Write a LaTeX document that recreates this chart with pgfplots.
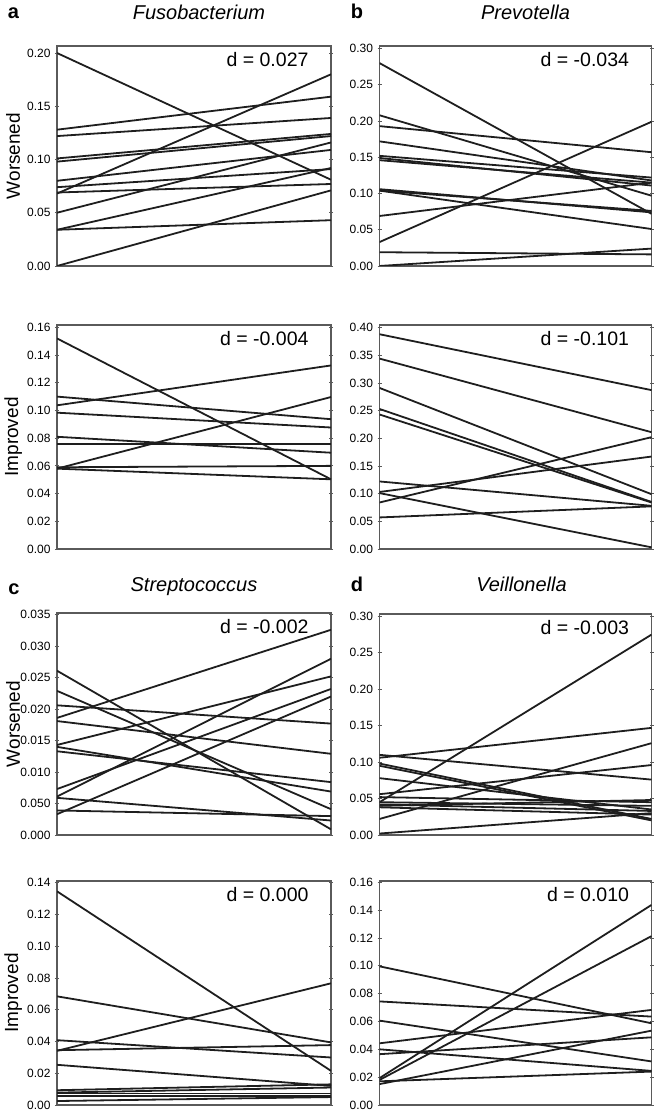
\documentclass[border=0pt]{standalone}
\usepackage{pgfplots}
\pgfplotsset{compat=1.18}
\usepackage{fontspec}
\setmainfont{Liberation Sans}
\definecolor{ln}{HTML}{1E1E1E}
\definecolor{fr}{HTML}{5A5A5A}
\pgfplotscreateplotcyclelist{blk}{draw=ln, line width=1.8pt, solid, no marks\\}
\pgfplotsset{
  panel/.style={
    scale only axis, xmin=0, xmax=1, ymin=0, xtick=\empty,
    clip mode=individual, scaled y ticks=false,
    axis line style={draw=fr, line width=1.2pt},
    tick style={draw=fr, line width=0.8pt},
    major tick length=4pt, tick align=center,
    /pgf/number format/assume math mode=true,
    /pgf/number format/fixed, /pgf/number format/fixed zerofill, /pgf/number format/precision=2,
    tick label style={font=\fontsize{12}{13}\selectfont},
    yticklabel style={xshift=-1pt},
    cycle list name=blk,
    title style={font=\fontsize{20}{22}\selectfont\itshape, anchor=base},
    ylabel style={font=\fontsize{19}{21}\selectfont, at={(axis description cs:-0.16,0.5)}, anchor=center},
  },
}
\tikzset{
  dlab/.style={anchor=base east, font=\fontsize{19.5}{21}\selectfont, xshift=-19pt, yshift=-21pt},
  plab/.style={anchor=base, font=\fontsize{20}{22}\selectfont\bfseries},
}
\begin{document}
\begin{tikzpicture}
\path[use as bounding box] (0pt,0pt) rectangle (658pt,1113pt);

% ---- a: Fusobacterium, Worsened
\begin{axis}[panel, at={(57pt,847pt)}, anchor=south west, width=274pt, height=220pt,
  ymax=0.2066, ytick={0,0.05,0.10,0.15,0.20}, ylabel={Worsened},
  title={Fusobacterium}, title style={at={(0.518,1)}, yshift=20pt}]
\addplot coordinates {(0,0.200) (1,0.081)};
\addplot coordinates {(0,0.068) (1,0.180)};
\addplot coordinates {(0,0.128) (1,0.159)};
\addplot coordinates {(0,0.122) (1,0.139)};
\addplot coordinates {(0,0.101) (1,0.124)};
\addplot coordinates {(0,0.098) (1,0.122)};
\addplot coordinates {(0,0.080) (1,0.109)};
\addplot coordinates {(0,0.074) (1,0.091)};
\addplot coordinates {(0,0.069) (1,0.077)};
\addplot coordinates {(0,0.050) (1,0.116)};
\addplot coordinates {(0,0.034) (1,0.092)};
\addplot coordinates {(0,0.034) (1,0.043)};
\addplot coordinates {(0,0.000) (1,0.071)};
\node[dlab] at (rel axis cs:1,1) {d = 0.027};
\node[plab] at (rel axis cs:0,1) [xshift=-43.5pt, yshift=27pt] {a};
\end{axis}

% ---- b: Prevotella, Worsened
\begin{axis}[panel, at={(379.5pt,847pt)}, anchor=south west, width=272pt, height=220pt,
  ymax=0.3036, ytick={0,0.05,0.10,0.15,0.20,0.25,0.30},
  title={Prevotella}, title style={at={(0.537,1)}, yshift=20pt}]
\addplot coordinates {(0,0.280) (1,0.072)};
\addplot coordinates {(0,0.208) (1,0.097)};
\addplot coordinates {(0,0.193) (1,0.157)};
\addplot coordinates {(0,0.172) (1,0.118)};
\addplot coordinates {(0,0.152) (1,0.122)};
\addplot coordinates {(0,0.149) (1,0.111)};
\addplot coordinates {(0,0.146) (1,0.115)};
\addplot coordinates {(0,0.106) (1,0.074)};
\addplot coordinates {(0,0.104) (1,0.076)};
\addplot coordinates {(0,0.104) (1,0.051)};
\addplot coordinates {(0,0.069) (1,0.115)};
\addplot coordinates {(0,0.033) (1,0.199)};
\addplot coordinates {(0,0.019) (1,0.016)};
\addplot coordinates {(0,0.000) (1,0.024)};
\node[dlab] at (rel axis cs:1,1) {d = -0.034};
\node[plab] at (rel axis cs:0,1) [xshift=-22.5pt, yshift=27pt] {b};
\end{axis}

% ---- a: Fusobacterium, Improved
\begin{axis}[panel, at={(57pt,564pt)}, anchor=south west, width=274pt, height=224pt,
  ymax=0.1617, ytick={0,0.02,0.04,0.06,0.08,0.10,0.12,0.14,0.16}, ylabel={Improved}]
\addplot coordinates {(0,0.152) (1,0.0503)};
\addplot coordinates {(0,0.1037) (1,0.1325)};
\addplot coordinates {(0,0.110) (1,0.0937)};
\addplot coordinates {(0,0.0984) (1,0.0877)};
\addplot coordinates {(0,0.081) (1,0.0695)};
\addplot coordinates {(0,0.0757) (1,0.0757)};
\addplot coordinates {(0,0.058) (1,0.1097)};
\addplot coordinates {(0,0.059) (1,0.060)};
\addplot coordinates {(0,0.058) (1,0.0503)};
\node[dlab] at (rel axis cs:1,1) {d = -0.004};
\end{axis}

% ---- b: Prevotella, Improved
\begin{axis}[panel, at={(379.5pt,564pt)}, anchor=south west, width=272pt, height=224pt,
  ymax=0.4047, ytick={0,0.05,0.10,0.15,0.20,0.25,0.30,0.35,0.40}]
\addplot coordinates {(0,0.388) (1,0.287)};
\addplot coordinates {(0,0.344) (1,0.211)};
\addplot coordinates {(0,0.291) (1,0.099)};
\addplot coordinates {(0,0.253) (1,0.085)};
\addplot coordinates {(0,0.243) (1,0.084)};
\addplot coordinates {(0,0.084) (1,0.202)};
\addplot coordinates {(0,0.103) (1,0.167)};
\addplot coordinates {(0,0.122) (1,0.078)};
\addplot coordinates {(0,0.101) (1,0.003)};
\addplot coordinates {(0,0.057) (1,0.077)};
\node[dlab] at (rel axis cs:1,1) {d = -0.101};
\end{axis}

% ---- c: Streptococcus, Worsened
\begin{axis}[panel, at={(57pt,278pt)}, anchor=south west, width=274pt, height=222pt,
  ymax=0.03527, ytick={0,0.005,0.010,0.015,0.020,0.025,0.030,0.035},
  yticklabels={0.000,0.050,0.010,0.015,0.020,0.025,0.030,0.035},
  ylabel={Worsened},
  title={Streptococcus}, title style={at={(0.5,1)}, yshift=15pt}]
\addplot coordinates {(0,0.0261) (1,0.0009)};
\addplot coordinates {(0,0.0229) (1,0.0041)};
\addplot coordinates {(0,0.0206) (1,0.0177)};
\addplot coordinates {(0,0.0186) (1,0.0326)};
\addplot coordinates {(0,0.0181) (1,0.0129)};
\addplot coordinates {(0,0.0143) (1,0.0252)};
\addplot coordinates {(0,0.0140) (1,0.0069)};
\addplot coordinates {(0,0.0133) (1,0.0084)};
\addplot coordinates {(0,0.0073) (1,0.0232)};
\addplot coordinates {(0,0.0061) (1,0.0280)};
\addplot coordinates {(0,0.0059) (1,0.0023)};
\addplot coordinates {(0,0.0039) (1,0.0030)};
\addplot coordinates {(0,0.0033) (1,0.0220)};
\node[dlab] at (rel axis cs:1,1) {d = -0.002};
\node[plab] at (rel axis cs:0,1) [xshift=-43pt, yshift=18pt] {c};
\end{axis}

% ---- d: Veillonella, Worsened
\begin{axis}[panel, at={(379.5pt,278pt)}, anchor=south west, width=272pt, height=221pt,
  ymax=0.3033, ytick={0,0.05,0.10,0.15,0.20,0.25,0.30},
  title={Veillonella}, title style={at={(0.522,1)}, yshift=16pt}]
\addplot coordinates {(0,0.045) (1,0.275)};
\addplot coordinates {(0,0.106) (1,0.147)};
\addplot coordinates {(0,0.110) (1,0.076)};
\addplot coordinates {(0,0.098) (1,0.022)};
\addplot coordinates {(0,0.095) (1,0.020)};
\addplot coordinates {(0,0.078) (1,0.035)};
\addplot coordinates {(0,0.056) (1,0.096)};
\addplot coordinates {(0,0.052) (1,0.045)};
\addplot coordinates {(0,0.045) (1,0.040)};
\addplot coordinates {(0,0.042) (1,0.033)};
\addplot coordinates {(0,0.040) (1,0.048)};
\addplot coordinates {(0,0.038) (1,0.028)};
\addplot coordinates {(0,0.022) (1,0.126)};
\addplot coordinates {(0,0.002) (1,0.030)};
\node[dlab] at (rel axis cs:1,1) {d = -0.003};
\node[plab] at (rel axis cs:0,1) [xshift=-22.5pt, yshift=22pt] {d};
\end{axis}

% ---- c: Streptococcus, Improved
\begin{axis}[panel, at={(57pt,8pt)}, anchor=south west, width=274pt, height=224pt,
  ymax=0.141, ytick={0,0.02,0.04,0.06,0.08,0.10,0.12,0.14}, ylabel={Improved}]
\addplot coordinates {(0,0.1345) (1,0.0215)};
\addplot coordinates {(0,0.0684) (1,0.0394)};
\addplot coordinates {(0,0.0408) (1,0.0299)};
\addplot coordinates {(0,0.0341) (1,0.0766)};
\addplot coordinates {(0,0.0345) (1,0.0377)};
\addplot coordinates {(0,0.0253) (1,0.0120)};
\addplot coordinates {(0,0.0093) (1,0.0130)};
\addplot coordinates {(0,0.0078) (1,0.0110)};
\addplot coordinates {(0,0.0072) (1,0.0072)};
\addplot coordinates {(0,0.0057) (1,0.0057)};
\addplot coordinates {(0,0.0025) (1,0.0050)};
\node[dlab] at (rel axis cs:1,1) {d = 0.000};
\end{axis}

% ---- d: Veillonella, Improved
\begin{axis}[panel, at={(379.5pt,8pt)}, anchor=south west, width=272pt, height=224pt,
  ymax=0.1609, ytick={0,0.02,0.04,0.06,0.08,0.10,0.12,0.14,0.16}]
\addplot coordinates {(0,0.0996) (1,0.0587)};
\addplot coordinates {(0,0.0744) (1,0.0635)};
\addplot coordinates {(0,0.0606) (1,0.0313)};
\addplot coordinates {(0,0.0443) (1,0.0683)};
\addplot coordinates {(0,0.0400) (1,0.0245)};
\addplot coordinates {(0,0.0365) (1,0.0486)};
\addplot coordinates {(0,0.0193) (1,0.1437)};
\addplot coordinates {(0,0.0180) (1,0.1213)};
\addplot coordinates {(0,0.0150) (1,0.0534)};
\addplot coordinates {(0,0.0170) (1,0.0240)};
\node[dlab] at (rel axis cs:1,1) {d = 0.010};
\end{axis}
\end{tikzpicture}
\end{document}
